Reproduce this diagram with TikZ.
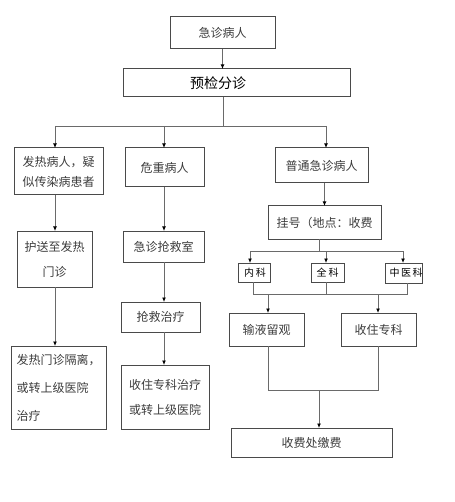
\documentclass[tikz,border=0pt]{standalone}
\usepackage{fontspec}
\setmainfont{Noto Sans CJK SC}
\newfontfamily\cjk{Noto Sans CJK SC}
\usetikzlibrary{arrows.meta}
\definecolor{txtgray}{HTML}{3C3C3C}
\definecolor{boxgray}{HTML}{4A4A4A}
\definecolor{linegray}{HTML}{6A6A6A}
\tikzset{
  box/.style={draw=boxgray, line width=1pt, inner sep=0pt, outer sep=0pt, rectangle,
    text=txtgray, font=\cjk\fontsize{12}{25}\selectfont, align=center},
  smallbox/.style={draw=boxgray, line width=1pt, inner sep=0pt, outer sep=0pt, rectangle,
    text=black, font=\cjk\fontsize{10}{12}\selectfont},
  ln/.style={draw=linegray, line width=0.9pt},
  arr/.style={draw=linegray, line width=0.9pt, -{Latex[length=4.5pt,width=4pt,black]}}
}
\begin{document}
\begin{tikzpicture}[x=1pt,y=-1pt]
\useasboundingbox (0,0) rectangle (454,502);
% top
\node[box, minimum width=105, minimum height=32] (a) at (222.5,33) {急诊病人};
\node[box, minimum width=227, minimum height=28] (b) at (236.5,83) {};
\node[text=black, font=\cjk\fontsize{14}{16}\selectfont, inner sep=0pt] (bt) at (218,83) {预检分诊};
% second row
\node[box, minimum width=89, minimum height=47, font=\cjk\fontsize{12}{20}\selectfont] (c) at (58.5,171.5) {发热病人，疑\\似传染病患者};
\node[box, minimum width=79, minimum height=39] (d) at (164.5,167.5) {危重病人};
\node[box, minimum width=93, minimum height=35] (e) at (321.5,165.5) {普通急诊病人};
% left column
\node[box, minimum width=75, minimum height=56] (f) at (54.5,259) {护送至发热\\门诊};
\node[box, minimum width=95, minimum height=83, align=left, font=\cjk\fontsize{12}{28}\selectfont] (g) at (58.5,387.5) {发热门诊隔离，\\或转上级医院\\治疗};
% middle column
\node[box, minimum width=81, minimum height=31] (h) at (163.5,246.5) {急诊抢救室};
\node[box, minimum width=79, minimum height=30] (i) at (160.5,317) {抢救治疗};
\node[box, minimum width=88, minimum height=64] (j) at (165,397) {收住专科治疗\\或转上级医院};
% right column
\node[box, minimum width=113, minimum height=33] (k) at (324.5,222.5) {挂号（地点：收费};
\node[smallbox, minimum width=32, minimum height=19] (l) at (254,272.5) {\hspace{2pt}内\hspace{2pt}科};
\node[smallbox, minimum width=33, minimum height=19] (m) at (327.5,272.5) {全\hspace{2pt}科};
\node[smallbox, minimum width=32, minimum height=20] (n) at (404,273) {\hspace{4pt}中\hspace{1.5pt}医\hspace{1.5pt}科};
\node[box, minimum width=75, minimum height=33] (o) at (266.5,329.5) {输液留观};
\node[box, minimum width=75, minimum height=33] (p) at (378.5,329.5) {收住专科};
\node[box, minimum width=161, minimum height=29] (q) at (311.5,442.5) {收费处缴费};
% coordinates
\coordinate (j1) at (223,126);
\coordinate (j1l) at (55,126);
\coordinate (j1m) at (164,126);
\coordinate (j1r) at (326,126);
\coordinate (j2) at (319,251);
\coordinate (j2l) at (250,251);
\coordinate (j2m) at (326,251);
\coordinate (j2r) at (403,251);
\coordinate (j3l) at (253,294);
\coordinate (j3m) at (326,294);
\coordinate (j3r) at (407,294);
\coordinate (j3a) at (268,294);
\coordinate (j3b) at (378,294);
\coordinate (j4a) at (268,390);
\coordinate (j4b) at (378,390);
\coordinate (j4m) at (319,390);
% connectors
\draw[arr] (a.south) -- (a.south |- b.north);
\draw[ln] (b.south -| j1) -- (j1);
\draw[ln] (j1l) -- (j1r);
\draw[arr] (j1l) -- (j1l |- c.north);
\draw[arr] (j1m) -- (j1m |- d.north);
\draw[arr] (j1r) -- (j1r |- e.north);
\draw[arr] (c.south -| j1l) -- (f.north -| j1l);
\draw[arr] (f.south -| j1l) -- (g.north -| j1l);
\draw[arr] (d.south -| j1m) -- (h.north -| j1m);
\draw[arr] (h.south -| j1m) -- (i.north -| j1m);
\draw[arr] (i.south -| j1m) -- (j.north -| j1m);
\draw[arr] (e.south -| k.north) -- (k.north);
\draw[ln] (k.south -| j2) -- (j2);
\draw[ln] (j2l) -- (j2r);
\draw[arr] (j2l) -- (j2l |- l.north);
\draw[arr] (j2m) -- (j2m |- m.north);
\draw[arr] (j2r) -- (j2r |- n.north);
\draw[ln] (l.south -| j3l) -- (j3l) -- (j3r) -- (n.south -| j3r);
\draw[ln] (m.south -| j3m) -- (j3m);
\draw[arr] (j3a) -- (j3a |- o.north);
\draw[arr] (j3b) -- (j3b |- p.north);
\draw[ln] (o.south -| j4a) -- (j4a) -- (j4b) -- (p.south -| j4b);
\draw[arr] (j4m) -- (j4m |- q.north);
\end{tikzpicture}
\end{document}
